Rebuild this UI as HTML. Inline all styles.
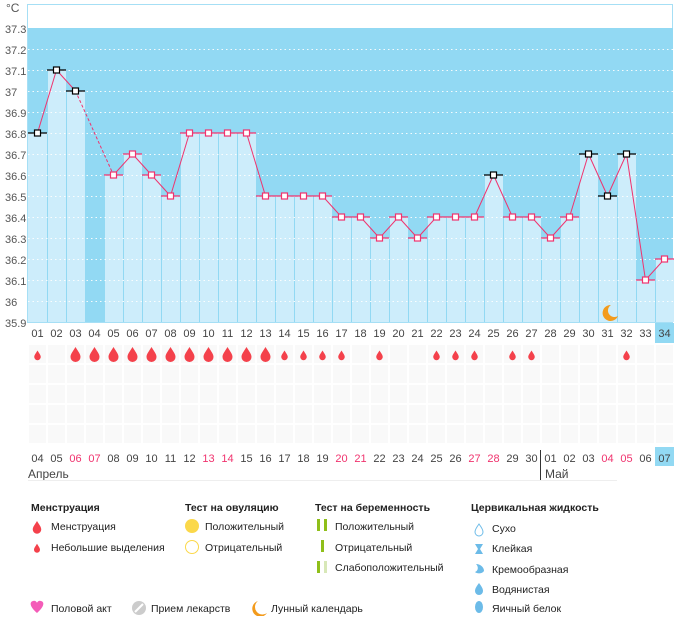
<!DOCTYPE html>
<html><head><meta charset="utf-8"><style>
body{margin:0;background:#fff;width:682px;height:616px;overflow:hidden;font-family:"Liberation Sans","DejaVu Sans",sans-serif}
svg text{font-family:"Liberation Sans","DejaVu Sans",sans-serif}
</style></head><body>
<svg id="s" width="682" height="616" xmlns="http://www.w3.org/2000/svg"></svg>
<script>
var s=document.getElementById('s');var h='';
var L=28,W=19,Y=function(t){return 28+(37.3-t)*210};
h+='<rect x="27.5" y="4.5" width="645" height="318" fill="#fff" stroke="#a6dff5"/>';
h+='<rect x="28" y="28" width="645" height="294" fill="#92d9f3"/>';
var v=[36.8,37.1,37.0,null,36.6,36.7,36.6,36.5,36.8,36.8,36.8,36.8,36.5,36.5,36.5,36.5,36.4,36.4,36.3,36.4,36.3,36.4,36.4,36.4,36.6,36.4,36.4,36.3,36.4,36.7,36.5,36.7,36.1,36.2];
var blk=[1,2,3,25,30,31,32];
for(var i=0;i<34;i++){if(v[i]!=null){var y=Y(v[i]);h+='<rect x="'+(L+i*W)+'" y="'+y+'" width="'+W+'" height="'+(322-y)+'" fill="#cdedfb"/>';}}
for(var i=1;i<34;i++)h+='<line x1="'+(L+i*W+0.5)+'" y1="28" x2="'+(L+i*W+0.5)+'" y2="322" stroke="#92d9f3" stroke-width="1"/>';
for(var k=1;k<14;k++){var y=28+k*21+0.5;h+='<line x1="28" x2="673" y1="'+y+'" y2="'+y+'" stroke="#fff" stroke-dasharray="1.5,3" opacity="0.9"/>';}
var labs=['37.3','37.2','37.1','37','36.9','36.8','36.7','36.6','36.5','36.4','36.3','36.2','36.1','36','35.9'];
for(var k=0;k<15;k++)h+='<text x="5" y="'+(28+k*21+5)+'" font-size="11" fill="#555">'+labs[k]+'</text>';
h+='<text x="6" y="12" font-size="12" fill="#555">°C</text>';
var pts=[];for(var i=0;i<34;i++)if(v[i]!=null)pts.push([L+i*W+9.5,Y(v[i]),i]);
for(var j=1;j<pts.length;j++){var a=pts[j-1],b=pts[j];h+='<line x1="'+a[0]+'" y1="'+a[1]+'" x2="'+b[0]+'" y2="'+b[1]+'" stroke="#f0336e" stroke-width="1"'+(b[2]-a[2]>1?' stroke-dasharray="3,2"':'')+'/>';}
for(var j=0;j<pts.length;j++){var p=pts[j],c=blk.indexOf(p[2]+1)>=0?'#000':'#f0336e';
h+='<line x1="'+(L+p[2]*W)+'" x2="'+(L+p[2]*W+W)+'" y1="'+p[1]+'" y2="'+p[1]+'" stroke="'+c+'" stroke-width="1.3"/>';
h+='<rect x="'+(p[0]-3)+'" y="'+(p[1]-3)+'" width="6" height="6" fill="#fff" stroke="'+c+'" stroke-width="1.2"/>';}
h+='<path d="M611 305 a8 8 0 1 0 7 11 a6 6 0 0 1 -7 -11z" fill="#f39b1c"/>';
for(var i=0;i<34;i++){var n=(i<9?'0':'')+(i+1);if(i==33)h+='<rect x="'+(L+i*W)+'" y="323" width="19" height="20" fill="#92d9f3"/>';
h+='<text x="'+(L+i*W+9.5)+'" y="337" font-size="11" fill="#444" text-anchor="middle">'+n+'</text>';}
for(var r=0;r<5;r++)for(var i=0;i<34;i++)h+='<rect x="'+(L+i*W+1)+'" y="'+(345+r*20)+'" width="17" height="18" fill="#f9f9f9"/>';
var big=[3,4,5,6,7,8,9,10,11,12,13],sm=[1,14,15,16,17,19,22,23,24,26,27,32];
function drop(cx,cy,sc){return '<path transform="translate('+cx+','+cy+') scale('+sc+')" d="M0 -7 C3 -2 5 0 5 3 A5 5 0 0 1 -5 3 C-5 0 -3 -2 0 -7z" fill="#f4414b"/>';}
big.forEach(function(c){h+=drop(L+(c-1)*W+9.5,354,1)});
sm.forEach(function(c){h+=drop(L+(c-1)*W+9.5,355,0.65)});
var d=['04','05','06','07','08','09','10','11','12','13','14','15','16','17','18','19','20','21','22','23','24','25','26','27','28','29','30','01','02','03','04','05','06','07'];
var red=[2,3,9,10,16,17,23,24,30,31];
for(var i=0;i<34;i++){if(i==33)h+='<rect x="'+(L+i*W)+'" y="447" width="19" height="19" fill="#92d9f3"/>';
h+='<text x="'+(L+i*W+9.5)+'" y="462" font-size="11" fill="'+(red.indexOf(i)>=0?'#f0336e':'#444')+'" text-anchor="middle">'+d[i]+'</text>';}
h+='<line x1="540.5" x2="540.5" y1="450" y2="480" stroke="#333"/>';
h+='<text x="28" y="478" font-size="12" fill="#444">Апрель</text><text x="545" y="478" font-size="12" fill="#444">Май</text>';
h+='<line x1="28" x2="617" y1="480.5" y2="480.5" stroke="#eee"/>';
function t(x,y,s,b){return '<text x="'+x+'" y="'+y+'" font-size="10.5" fill="#222"'+(b?' font-weight="bold"':'')+'>'+s+'</text>';}
h+=t(31,511,'Менструация',1)+t(185,511,'Тест на овуляцию',1)+t(315,511,'Тест на беременность',1)+t(471,511,'Цервикальная жидкость',1);
h+=drop(37,527,0.85)+t(51,530,'Менструация')+drop(37,548,0.6)+t(51,551,'Небольшие выделения');
h+='<circle cx="192" cy="526" r="7" fill="#fbd84a"/>'+t(205,530,'Положительный')+'<circle cx="192" cy="547" r="6.5" fill="#fff" stroke="#fbd84a"/>'+t(205,551,'Отрицательный');
h+='<rect x="317" y="519" width="3" height="12" fill="#8fbf1a"/><rect x="324" y="519" width="3" height="12" fill="#8fbf1a"/>'+t(335,530,'Положительный');
h+='<rect x="321" y="540" width="3" height="12" fill="#8fbf1a"/>'+t(335,551,'Отрицательный');
h+='<rect x="317" y="561" width="3" height="12" fill="#8fbf1a"/><rect x="324" y="561" width="3" height="12" fill="#d8e8b8"/>'+t(335,571,'Слабоположительный');
h+='<path d="M479 524 C482 528 483 530 483 532 A4 4 0 0 1 475 532 C475 530 476 528 479 524z" fill="#fff" stroke="#6cbbe8"/>'+t(492,532,'Сухо');
h+='<path d="M475 544 h8 l-3 5 l3 5 h-8 l3 -5z" fill="#6cbbe8"/>'+t(492,552,'Клейкая');
h+='<path d="M476 564 C480 564 484 567 484 571 C482 574 477 574 475 572 C478 571 479 567 476 564z" fill="#6cbbe8"/>'+t(492,573,'Кремообразная');
h+='<path d="M479 583 C482 587 483 589 483 591 A4 4 0 0 1 475 591 C475 589 476 587 479 583z" fill="#6cbbe8"/>'+t(492,593,'Водянистая');
h+='<ellipse cx="479" cy="607" rx="4" ry="6" fill="#6cbbe8"/>'+t(492,612,'Яичный белок');
h+='<path d="M37 613 C30 607 29 602 33 601 C35 600 37 602 37 603 C37 602 39 600 41 601 C45 602 44 607 37 613z" fill="#f45cb8"/>'+t(51,612,'Половой акт');
h+='<circle cx="139" cy="608" r="7" fill="#ccc"/><line x1="135" y1="612" x2="143" y2="604" stroke="#fff" stroke-width="2"/>'+t(151,612,'Прием лекарств');
h+='<path d="M258 601 a8 8 0 1 0 9 12 a6 6 0 0 1 -9 -12z" fill="#f39b1c"/>'+t(271,612,'Лунный календарь');
s.innerHTML=h;
</script>
</body></html>
